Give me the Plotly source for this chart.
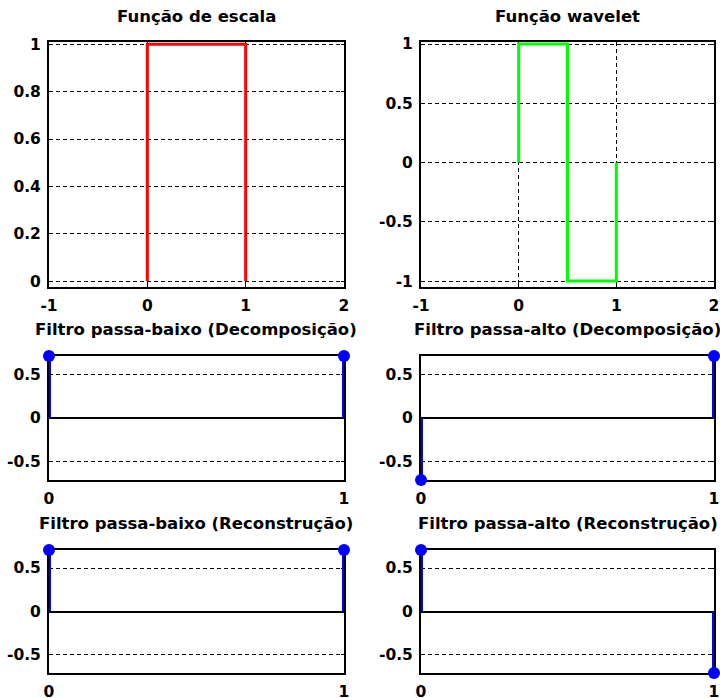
import plotly.graph_objects as go

# ---- data ----
scale_x = [0, 0, 1, 1]
scale_y = [0, 1, 1, 0]
wave_x = [0, 0, 0.5, 0.5, 1, 1]
wave_y = [0, 1, 1, -1, -1, 0]
n = [0, 1]
lo_d = [0.7071, 0.7071]
hi_d = [-0.7071, 0.7071]
lo_r = [0.7071, 0.7071]
hi_r = [0.7071, -0.7071]

titles = ["Função de escala", "Função wavelet",
          "Filtro passa-baixo (Decomposição)", "Filtro passa-alto (Decomposição)",
          "Filtro passa-baixo (Reconstrução)", "Filtro passa-alto (Reconstrução)"]

W, H = 720, 698
cols = [(49, 344), (421, 714)]
rows = [(42, 287), (356, 480), (550, 673)]
title_y = [17, 330, 523]

FONT = "DejaVu Sans"
fig = go.Figure()

def xd(c):
    return [c[0] / W, c[1] / W]

def yd(r):
    return [1 - r[1] / H, 1 - r[0] / H]

axis_common = dict(showline=True, linecolor="black", linewidth=2, mirror="ticks",
                   ticks="inside", ticklen=3, tickcolor="black", tickwidth=1,
                   showgrid=True, gridcolor="black", gridwidth=1, griddash="4px,3px",
                   layer="below traces", fixedrange=True, automargin=False,
                   tickfont=dict(family=FONT, size=15.5, color="black", weight="bold"))

idx = 0
for r in range(3):
    for c in range(2):
        idx += 1
        xa = "xaxis" if idx == 1 else f"xaxis{idx}"
        ya = "yaxis" if idx == 1 else f"yaxis{idx}"
        xref = "x" if idx == 1 else f"x{idx}"
        yref = "y" if idx == 1 else f"y{idx}"
        xax = dict(axis_common, domain=xd(cols[c]), anchor=yref, ticklabelstandoff=3)
        yax = dict(axis_common, domain=yd(rows[r]), anchor=xref, ticklabelstandoff=3)
        if r == 0:
            xax.update(range=[-1, 2], tickvals=[-1, 0, 1, 2], ticktext=["-1", "0", "1", "2"], zeroline=False)
            if c == 0:
                yax.update(range=[-0.025, 1.01], tickvals=[0, 0.2, 0.4, 0.6, 0.8, 1],
                           ticktext=["0", "0.2", "0.4", "0.6", "0.8", "1"], zeroline=False)
            else:
                yax.update(range=[-1.05, 1.017], tickvals=[-1, -0.5, 0, 0.5, 1],
                           ticktext=["-1", "-0.5", "0", "0.5", "1"], zeroline=False)
        else:
            xax.update(range=[0, 1], tickvals=[0, 1], ticktext=["0", "1"], showgrid=False, zeroline=False)
            yax.update(range=[-0.7071, 0.7071], tickvals=[-0.5, 0, 0.5],
                       ticktext=["-0.5", "0", "0.5"], zeroline=True, zerolinecolor="black",
                       zerolinewidth=2)
        fig.update_layout(**{xa: xax, ya: yax})
        fig.add_annotation(text=titles[idx - 1], xref="paper", yref="paper",
                           x=(cols[c][0] + cols[c][1]) / 2 / W, y=1 - title_y[r] / H,
                           xanchor="center", yanchor="middle", showarrow=False,
                           font=dict(family=FONT, size=16.5, color="black", weight="bold"))

# scaling function and wavelet
fig.add_trace(go.Scatter(x=scale_x, y=scale_y, mode="lines", line=dict(color="#ff0000", width=3),
                         xaxis="x", yaxis="y", showlegend=False))
fig.add_trace(go.Scatter(x=wave_x, y=wave_y, mode="lines", line=dict(color="#00ff00", width=3),
                         xaxis="x2", yaxis="y2", showlegend=False))

def stem(vals, k):
    xr = f"x{k}"
    yr = f"y{k}"
    sx, sy = [], []
    for xi, vi in zip(n, vals):
        sx += [xi, xi, None]
        sy += [0, vi, None]
    fig.add_trace(go.Scatter(x=sx, y=sy, mode="lines", line=dict(color="#0000ff", width=4),
                             xaxis=xr, yaxis=yr, showlegend=False))
    fig.add_trace(go.Scatter(x=n, y=vals, mode="markers", cliponaxis=False,
                             marker=dict(color="#0000ff", size=12, line=dict(width=0)),
                             xaxis=xr, yaxis=yr, showlegend=False))

stem(lo_d, 3)
stem(hi_d, 4)
stem(lo_r, 5)
stem(hi_r, 6)

fig.update_layout(width=W, height=H, margin=dict(l=0, r=0, t=0, b=0),
                  paper_bgcolor="white", plot_bgcolor="white", showlegend=False)

fig.write_html("out.html")
